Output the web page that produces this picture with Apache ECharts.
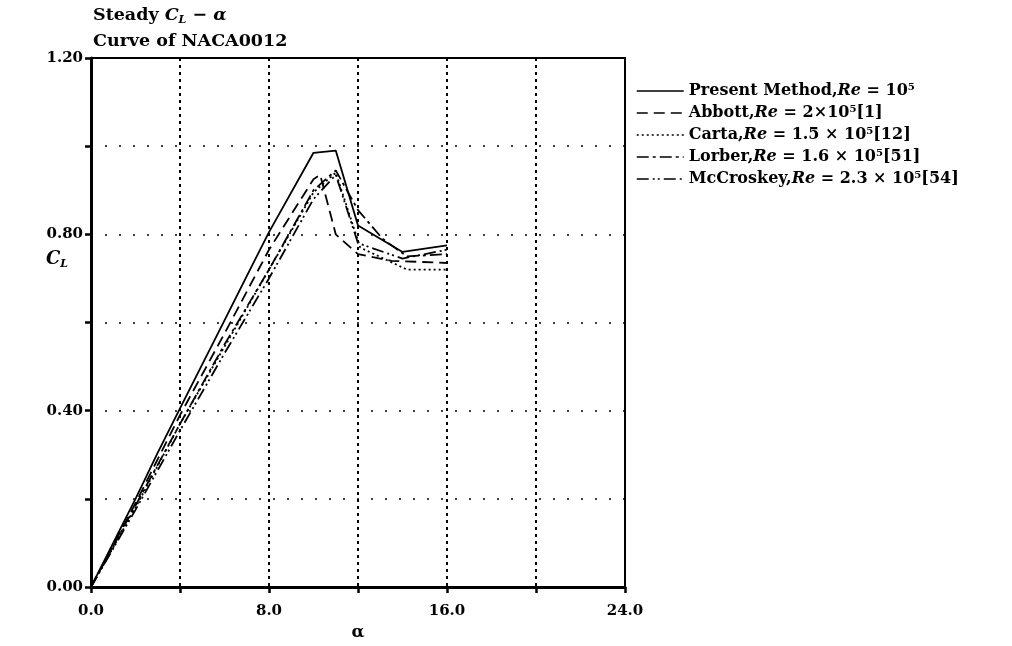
<!DOCTYPE html>
<html>
<head>
<meta charset="utf-8">
<script src="https://cdn.jsdelivr.net/npm/echarts@6/dist/echarts.min.js"></script>
<style>html,body{margin:0;padding:0;background:#fff}#c{width:1012px;height:646px}</style>
</head>
<body>
<div id="c"></div>
<script>
// ---- data ----
const seriesNames = ['Present Method', 'Abbott', 'Carta', 'Lorber', 'McCroskey'];
const reLabels = ['10⁵', '2×10⁵[1]', '1.5 × 10⁵[12]', '1.6 × 10⁵[51]', '2.3 × 10⁵[54]'];

const presentAlpha = [0, 1, 2, 3, 4, 5, 6, 7, 8, 10, 11, 12, 14, 16];
const presentCL    = [0, 0.10, 0.20, 0.305, 0.405, 0.505, 0.605, 0.705, 0.805, 0.985, 0.99, 0.82, 0.76, 0.775];

const abbottAlpha = [0, 2, 4, 6, 8, 10, 10.3, 11, 12, 13.5, 16];
const abbottCL    = [0, 0.19, 0.39, 0.575, 0.765, 0.925, 0.935, 0.80, 0.755, 0.74, 0.735];

const cartaAlpha = [0, 2, 4, 6, 8, 10, 11, 12.1, 14.2, 16];
const cartaCL    = [0, 0.18, 0.37, 0.545, 0.72, 0.895, 0.94, 0.77, 0.72, 0.72];

const lorberAlpha = [0, 2, 4, 6, 8, 10, 11, 12, 13.1, 14.2, 16];
const lorberCL    = [0, 0.185, 0.37, 0.55, 0.72, 0.90, 0.945, 0.855, 0.79, 0.75, 0.755];

const mccroskeyAlpha = [0, 2, 4, 6, 8, 10, 11, 12, 14, 16];
const mccroskeyCL    = [0, 0.175, 0.355, 0.53, 0.70, 0.88, 0.935, 0.78, 0.745, 0.765];

const xTicks = [0, 8, 16, 24];
const yTicks = [0, 0.4, 0.8, 1.2];

// ---- build ----
const allAlpha = [presentAlpha, abbottAlpha, cartaAlpha, lorberAlpha, mccroskeyAlpha];
const allCL = [presentCL, abbottCL, cartaCL, lorberCL, mccroskeyCL];
const dashTypes = ['solid', [11, 6], [2, 3], [12, 4, 3, 4], [12, 4, 2, 3, 2, 4]];

const serif = 'DejaVu Serif';
const series = seriesNames.map((n, i) => ({
  name: n,
  type: 'line',
  symbol: 'none',
  data: allAlpha[i].map((a, k) => [a, allCL[i][k]]),
  lineStyle: { color: '#000', width: 1.8, type: dashTypes[i] },
  itemStyle: { color: '#000' },
  z: 5 - i
}));

const chart = echarts.init(document.getElementById('c'), null, { renderer: 'canvas' });
chart.setOption({
  animation: false,
  backgroundColor: '#fff',
  title: [
    {
      left: 88, top: -3,
      text: '{b|Steady }{i|C}{sub|L}{b| − }{i|α}\n{b|Curve of NACA0012}',
      textStyle: {
        rich: {
          b: { fontFamily: serif, fontWeight: 'bold', fontSize: 17.5, color: '#000', lineHeight: 26 },
          i: { fontFamily: serif, fontStyle: 'italic', fontWeight: 'bold', fontSize: 17.5, color: '#000', lineHeight: 26 },
          sub: { fontFamily: serif, fontStyle: 'italic', fontWeight: 'bold', fontSize: 11, color: '#000', lineHeight: 26, padding: [10, 0, 0, 0] }
        }
      }
    },
    {
      left: 41, top: 242,
      text: '{i|C}{sub|L}',
      textStyle: {
        rich: {
          i: { fontFamily: serif, fontStyle: 'italic', fontWeight: 'bold', fontSize: 18, color: '#000', lineHeight: 24 },
          sub: { fontFamily: serif, fontStyle: 'italic', fontWeight: 'bold', fontSize: 11, color: '#000', lineHeight: 24, padding: [10, 0, 0, 0] }
        }
      }
    }
  ],
  legend: {
    orient: 'vertical',
    left: 636, top: 83, padding: 0,
    itemWidth: 47, itemHeight: 14, itemGap: 6,
    data: seriesNames,
    itemStyle: { color: 'transparent', borderColor: 'transparent', borderWidth: 0 },
    lineStyle: { width: 1.5 },
    formatter: (name) => {
      const i = seriesNames.indexOf(name);
      return '{b|' + name + ',}{i|Re}{b| = ' + reLabels[i] + '}';
    },
    textStyle: {
      rich: {
        b: { fontFamily: serif, fontWeight: 'bold', fontSize: 16, color: '#000', lineHeight: 14 },
        i: { fontFamily: serif, fontStyle: 'italic', fontWeight: 'bold', fontSize: 16, color: '#000', lineHeight: 14 }
      }
    }
  },
  grid: {
    left: 91, top: 58, width: 534, height: 537,
    show: true, borderColor: '#000', borderWidth: 2, backgroundColor: 'transparent'
  },
  xAxis: {
    type: 'value', min: 0, max: 24, interval: 4,
    name: 'α', nameLocation: 'middle', nameGap: 37,
    nameTextStyle: { fontFamily: serif, fontWeight: 'bold', fontSize: 17, color: '#000' },
    axisLine: { show: true, lineStyle: { color: '#000', width: 3 } },
    axisTick: { show: true, inside: false, length: 6, lineStyle: { color: '#000', width: 2.5 } },
    axisLabel: {
      margin: 17, color: '#000', fontFamily: serif, fontWeight: 'bold', fontSize: 15,
      formatter: v => xTicks.includes(v) ? v.toFixed(1) : ''
    },
    splitLine: { show: true, lineStyle: { color: '#000', width: 2, type: [3, 4] } }
  },
  yAxis: {
    type: 'value', min: 0, max: 1.2, interval: 0.2,
    axisLine: { show: true, lineStyle: { color: '#000', width: 3 } },
    axisTick: { show: true, inside: false, length: 6, lineStyle: { color: '#000', width: 2.5 } },
    axisLabel: {
      margin: 8, color: '#000', fontFamily: serif, fontWeight: 'bold', fontSize: 15,
      formatter: v => yTicks.some(t => Math.abs(t - v) < 1e-6) ? v.toFixed(2) : ''
    },
    splitLine: { show: true, lineStyle: { color: '#000', width: 1.5, type: [2, 12] } }
  },
  series: series
});
</script>
</body>
</html>
